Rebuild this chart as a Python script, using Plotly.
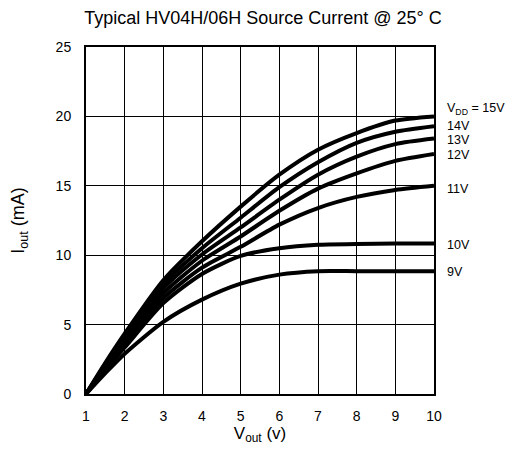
import plotly.graph_objects as go

vout = [1, 1.5, 2, 3, 4, 5, 6, 7, 8, 9, 10]

i_15v = [0, 2.25, 4.35, 8.2, 11.0, 13.5, 15.8, 17.6, 18.8, 19.7, 20.0]
i_14v = [0, 2.15, 4.15, 7.9, 10.5, 12.7, 14.9, 16.7, 18.1, 18.9, 19.3]
i_13v = [0, 2.05, 3.95, 7.6, 10.05, 12.0, 14.0, 15.8, 17.1, 18.0, 18.4]
i_12v = [0, 1.95, 3.75, 7.25, 9.6, 11.35, 13.2, 14.8, 15.9, 16.8, 17.3]
i_11v = [0, 1.85, 3.55, 6.9, 9.1, 10.6, 12.2, 13.4, 14.2, 14.7, 15.0]
i_10v = [0, 1.75, 3.35, 6.55, 8.65, 9.95, 10.5, 10.75, 10.8, 10.85, 10.85]
i_9v = [0, 1.5, 2.9, 5.2, 6.8, 7.95, 8.6, 8.85, 8.85, 8.85, 8.85]

series = [i_15v, i_14v, i_13v, i_12v, i_11v, i_10v, i_9v]

label_texts = ["V<sub>DD</sub> = 15V", "14V", "13V", "12V", "11V", "10V", "9V"]
label_y = [20.5, 19.3, 18.3, 17.25, 14.8, 10.75, 8.8]

x_ticks = [1, 2, 3, 4, 5, 6, 7, 8, 9, 10]
y_ticks = [0, 5, 10, 15, 20, 25]

FONT = "Liberation Sans, Arial, sans-serif"

fig = go.Figure()
for s in series:
    fig.add_trace(go.Scatter(
        x=vout, y=s, mode="lines",
        line=dict(color="black", width=4, shape="spline", smoothing=0.7),
        showlegend=False, hoverinfo="skip",
    ))

for t, yv in zip(label_texts, label_y):
    fig.add_annotation(
        x=1, xref="paper", y=yv, yref="y", text=t, showarrow=False,
        xanchor="left", yanchor="middle", xshift=11,
        font=dict(family=FONT, size=12.5, color="black"),
    )

# page body has an 8px default margin; figure size compensates for it
fig.update_layout(
    width=510, height=444,
    margin=dict(l=78, r=84, t=39, b=58, autoexpand=False),
    paper_bgcolor="white", plot_bgcolor="white",
    font=dict(family=FONT, color="black", size=13),
    title=dict(text="Typical HV04H/06H Source Current @ 25° C",
               x=0.5, xanchor="center", y=0.993, yanchor="top",
               pad=dict(t=0, b=0),
               font=dict(size=18, color="black")),
)

fig.update_xaxes(
    range=[1, 10], tickvals=x_ticks, ticktext=[str(v) for v in x_ticks],
    showgrid=True, gridcolor="black", gridwidth=1,
    showline=True, linecolor="black", linewidth=2, mirror=True,
    zeroline=False, ticks="", ticklabelstandoff=8, automargin=False,
    tickfont=dict(size=14),
    title=dict(text="V<sub>out</sub> (v)", font=dict(size=17), standoff=4),
)
fig.update_yaxes(
    range=[0, 25], tickvals=y_ticks, ticktext=[str(v) for v in y_ticks],
    showgrid=True, gridcolor="black", gridwidth=1,
    showline=True, linecolor="black", linewidth=2, mirror=True,
    zeroline=False, ticks="", ticklabelstandoff=10, automargin=False,
    tickfont=dict(size=14),
    title=dict(text="I<sub>out</sub> (mA)", font=dict(size=18), standoff=34),
)

fig.write_html("out.html")
